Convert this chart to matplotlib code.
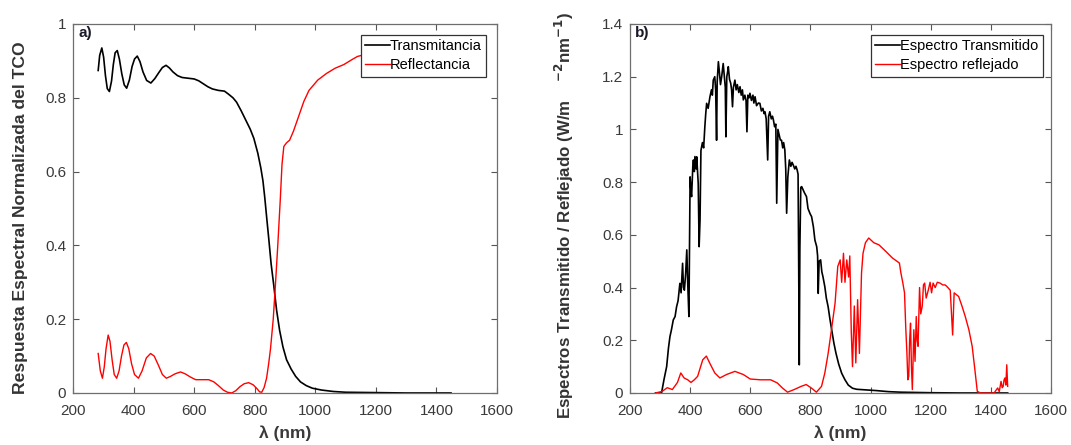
import matplotlib
matplotlib.use("Agg")
import matplotlib.pyplot as plt

plt.rcParams['font.family'] = ['Liberation Sans', 'DejaVu Sans']

# ---- panel a) normalized TCO response ----
wl_T = [283, 288, 295, 301, 307, 313, 320, 327, 333, 339, 346, 353, 361, 369, 377, 386,
        395, 403, 412, 421, 431, 443, 457, 470, 483, 495, 507, 518, 530, 545, 560, 580,
        600, 615, 630, 645, 660, 680, 700, 713, 728, 740, 755, 770, 785, 797, 810, 820,
        827, 833, 840, 846, 854, 863, 872, 882, 893, 905, 920, 935, 951, 970, 990, 1020,
        1060, 1100, 1200, 1300, 1448]
trans = [0.874, 0.915, 0.935, 0.91, 0.86, 0.825, 0.817, 0.845, 0.89, 0.922, 0.928, 0.905,
         0.865, 0.835, 0.826, 0.848, 0.885, 0.905, 0.913, 0.898, 0.87, 0.847, 0.84, 0.852,
         0.868, 0.882, 0.888, 0.881, 0.87, 0.86, 0.855, 0.853, 0.851, 0.846, 0.838, 0.83,
         0.824, 0.82, 0.818, 0.81, 0.80, 0.788, 0.765, 0.74, 0.715, 0.69, 0.65, 0.61, 0.575,
         0.53, 0.47, 0.42, 0.35, 0.29, 0.225, 0.17, 0.125, 0.09, 0.065, 0.045, 0.03, 0.02,
         0.013, 0.008, 0.004, 0.002, 0.001, 0.0, 0.0]

wl_R = [283, 290, 297, 303, 309, 316, 322, 329, 336, 344, 352, 360, 368, 376, 384, 393,
        403, 416, 428, 442, 456, 468, 482, 495, 508, 522, 537, 555, 570, 588, 605, 630,
        648, 665, 680, 696, 710, 724, 737, 751, 765, 780, 795, 807, 816, 823, 831, 839,
        846, 852, 861, 868, 876, 884, 890, 896, 905, 915, 928, 945, 962, 979, 1008, 1037,
        1065, 1094, 1120, 1139, 1200, 1300, 1450]
refl = [0.107, 0.06, 0.04, 0.07, 0.12, 0.157, 0.14, 0.09, 0.05, 0.04, 0.06, 0.10, 0.13,
        0.137, 0.12, 0.08, 0.05, 0.04, 0.06, 0.095, 0.107, 0.10, 0.075, 0.05, 0.04, 0.045,
        0.052, 0.057, 0.052, 0.043, 0.036, 0.036, 0.036, 0.03, 0.02, 0.008, 0.002, 0.0,
        0.006, 0.017, 0.025, 0.028, 0.022, 0.012, 0.003, 0.002, 0.015, 0.04, 0.08, 0.12,
        0.2, 0.29, 0.40, 0.52, 0.62, 0.668, 0.678, 0.685, 0.71, 0.75, 0.79, 0.82, 0.848,
        0.866, 0.88, 0.89, 0.903, 0.912, 0.925, 0.935, 0.94]

# ---- panel b) transmitted / reflected spectra ----
wl_st = [285, 300, 305, 313, 322, 328, 333, 338, 344, 350, 355, 360, 366, 370, 375, 378,
         381, 385, 389, 392, 396, 398, 400, 403, 405, 409, 411, 414, 416, 420, 422, 427,
         430, 433, 436, 441, 445, 449, 452, 455, 460, 466, 471, 474, 477, 482, 485, 488,
         490, 494, 498, 501, 505, 508, 510, 514, 517, 519, 522, 525, 527, 531, 535, 538,
         541, 544, 549, 553, 557, 562, 566, 570, 574, 577, 582, 586, 589, 592, 596, 599,
         604, 609, 612, 616, 621, 627, 632, 637, 642, 646, 649, 653, 658, 661, 665, 670,
         674, 677, 681, 685, 688, 692, 695, 700, 704, 708, 711, 715, 718, 721, 725, 730,
         735, 739, 743, 748, 752, 756, 759, 761, 763, 765, 768, 771, 776, 780, 787, 792,
         799, 804, 810, 815, 821, 824, 826, 829, 834, 838, 842, 848, 853, 859, 865, 871,
         878, 885, 894, 904, 915, 926, 940, 954, 980, 1020, 1060, 1100, 1150, 1200, 1300,
         1456]
st = [0.0, 0.0, 0.0, 0.05, 0.10, 0.17, 0.214, 0.24, 0.277, 0.29, 0.327, 0.35, 0.416, 0.38,
      0.492, 0.40, 0.39, 0.45, 0.543, 0.42, 0.29, 0.55, 0.82, 0.76, 0.745, 0.86, 0.884,
      0.84, 0.897, 0.85, 0.896, 0.795, 0.555, 0.656, 0.92, 0.95, 0.93, 1.01, 1.06, 1.099,
      1.08, 1.124, 1.15, 1.13, 1.187, 1.20, 1.15, 0.959, 1.18, 1.257, 1.21, 1.17, 1.20,
      1.23, 1.25, 1.20, 1.16, 0.972, 1.20, 1.22, 1.238, 1.19, 1.175, 1.15, 1.086, 1.16,
      1.187, 1.15, 1.17, 1.14, 1.162, 1.13, 1.15, 1.112, 1.13, 1.11, 0.991, 1.13, 1.12,
      1.137, 1.11, 1.13, 1.10, 1.124, 1.09, 1.10, 1.099, 1.07, 1.08, 1.06, 1.067, 1.04,
      0.884, 1.05, 1.067, 1.04, 1.05, 1.036, 1.01, 1.02, 0.72, 1.00, 0.985, 0.96, 0.959,
      0.93, 0.95, 0.922, 0.85, 0.682, 0.82, 0.884, 0.86, 0.875, 0.865, 0.85, 0.86, 0.846,
      0.83, 0.50, 0.107, 0.55, 0.78, 0.783, 0.77, 0.76, 0.745, 0.70, 0.68, 0.669, 0.63,
      0.58, 0.555, 0.52, 0.378, 0.50, 0.505, 0.46, 0.44, 0.403, 0.36, 0.327, 0.28, 0.239,
      0.19, 0.151, 0.11, 0.075, 0.05, 0.03, 0.018, 0.014, 0.012, 0.009, 0.005, 0.003,
      0.002, 0.001, 0.0, 0.0]

wl_sr = [285, 307, 324, 341, 358, 369, 380, 392, 403, 414, 425, 442, 454, 465, 482, 499,
         521, 549, 577, 600, 634, 668, 690, 707, 724, 746, 769, 786, 803, 820, 837, 848,
         859, 870, 882, 891, 899, 904, 910, 915, 921, 927, 931, 936, 940, 946, 951, 957,
         963, 970, 975, 983, 994, 1011, 1028, 1051, 1073, 1096, 1101, 1107, 1113, 1117,
         1121, 1124, 1127, 1130, 1133, 1136, 1139, 1144, 1148, 1152, 1155, 1158, 1163,
         1167, 1172, 1176, 1180, 1185, 1192, 1198, 1203, 1208, 1215, 1222, 1231, 1240,
         1248, 1254, 1265, 1273, 1278, 1293, 1304, 1315, 1327, 1338, 1347, 1355, 1366,
         1411, 1417, 1423, 1428, 1434, 1438, 1441, 1444, 1447, 1450, 1453, 1456]
sr = [0.0, 0.006, 0.02, 0.013, 0.04, 0.076, 0.057, 0.05, 0.04, 0.05, 0.063, 0.126, 0.14,
      0.114, 0.076, 0.057, 0.07, 0.082, 0.07, 0.053, 0.05, 0.05, 0.038, 0.019, 0.003,
      0.013, 0.025, 0.032, 0.019, 0.003, 0.025, 0.076, 0.15, 0.24, 0.34, 0.48, 0.505,
      0.42, 0.53, 0.42, 0.505, 0.44, 0.52, 0.23, 0.10, 0.33, 0.114, 0.354, 0.15, 0.455,
      0.53, 0.57, 0.588, 0.57, 0.562, 0.537, 0.512, 0.493, 0.455, 0.42, 0.38, 0.25, 0.15,
      0.05, 0.063, 0.20, 0.265, 0.10, 0.013, 0.24, 0.12, 0.29, 0.20, 0.177, 0.40, 0.30,
      0.33, 0.41, 0.417, 0.36, 0.39, 0.42, 0.38, 0.417, 0.40, 0.42, 0.417, 0.41, 0.41,
      0.404, 0.39, 0.22, 0.38, 0.366, 0.33, 0.29, 0.24, 0.177, 0.088, 0.006, 0.0, 0.0,
      0.01, 0.019, 0.005, 0.044, 0.02, 0.025, 0.05, 0.057, 0.03, 0.107, 0.025]

xticks = [200, 400, 600, 800, 1000, 1200, 1400, 1600]

fig = plt.figure(figsize=(10.71, 4.45), dpi=100)
ax1 = fig.add_axes([0.0682, 0.1169, 0.3959, 0.8292])
ax2 = fig.add_axes([0.5882, 0.1169, 0.3931, 0.8292])


def style(ax, ymax, yticks, ylabels):
    ax.set_xlim(200, 1600)
    ax.set_ylim(0, ymax)
    ax.set_xticks(xticks)
    ax.set_yticks(yticks)
    ax.set_yticklabels(ylabels)
    ax.tick_params(direction='in', top=True, right=True, length=4, width=0.8,
                   colors='#555555', labelcolor='#3a3a3a', labelsize=11)
    ax.tick_params(axis='x', pad=8)
    ax.tick_params(axis='y', pad=5)
    for s in ax.spines.values():
        s.set_color('#6e6e6e')
        s.set_linewidth(0.9)
    ax.set_xlabel('λ (nm)', fontsize=12.5, fontweight='bold', color='#3a3a3a', labelpad=5)


def legend(ax, x0):
    leg = ax.legend(loc='upper right', bbox_to_anchor=(x0, 0.971), fontsize=10.5,
                    frameon=True, fancybox=False, handlelength=1.7, handletextpad=0.0,
                    borderpad=0.3, labelspacing=0.35, borderaxespad=0.0)
    leg.get_frame().set_edgecolor('#333333')
    leg.get_frame().set_linewidth(0.9)
    leg.get_frame().set_alpha(1)


# panel a
ax1.plot(wl_T, trans, color='black', lw=1.2, label='Transmitancia')
ax1.plot(wl_R, refl, color='red', lw=1.0, label='Reflectancia')
style(ax1, 1.0, [0, 0.2, 0.4, 0.6, 0.8, 1.0], ['0', '0.2', '0.4', '0.6', '0.8', '1'])
ax1.set_ylabel('Respuesta Espectral Normalizada del TCO', fontsize=12.6,
               fontweight='bold', color='#333333')
ax1.yaxis.set_label_coords(-0.106, 0.475)
ax1.text(0.012, 0.995, 'a)', transform=ax1.transAxes, fontsize=11,
         fontweight='bold', va='top', ha='left', color='#1a1a2a')
legend(ax1, 0.974)

# panel b
ax2.plot(wl_st, st, color='black', lw=1.2, label='Espectro Transmitido')
ax2.plot(wl_sr, sr, color='red', lw=1.0, label='Espectro reflejado')
style(ax2, 1.4, [0, 0.2, 0.4, 0.6, 0.8, 1.0, 1.2, 1.4],
      ['0', '0.2', '0.4', '0.6', '0.8', '1', '1.2', '1.4'])
ax2.set_ylabel('Espectros Transmitido / Reflejado (W/m    $^{\\mathbf{-2}}$nm$^{\\mathbf{-1}}$)',
               fontsize=12.2, fontweight='bold', color='#333333')
ax2.yaxis.set_label_coords(-0.128, 0.48)
ax2.text(0.012, 0.995, 'b)', transform=ax2.transAxes, fontsize=11,
         fontweight='bold', va='top', ha='left', color='#1a1a2a')
legend(ax2, 0.98)

fig.savefig('out.png', dpi=100)
